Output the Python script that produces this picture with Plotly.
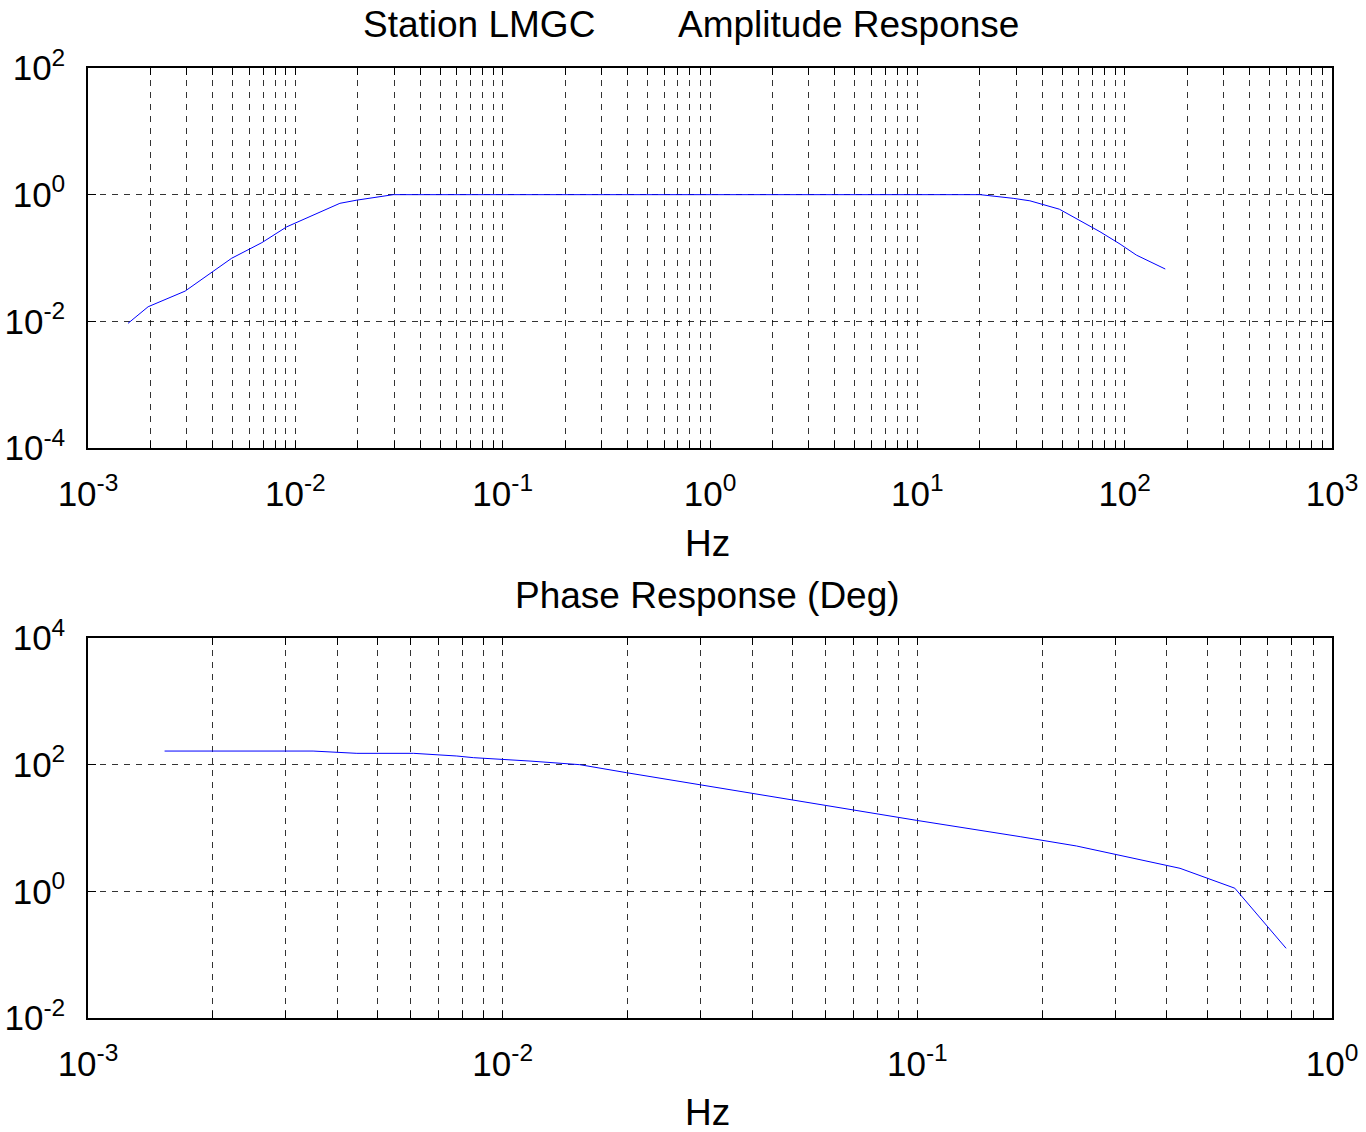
import plotly.graph_objects as go

# ---- data ----
amp_freq = [0.00156, 0.00195, 0.00294, 0.00493, 0.0069, 0.00908, 0.0164, 0.0198,
            0.0297, 0.1, 1.0, 10.0, 20.1, 29.0, 34.9, 48.4, 76.0, 95.0, 114.0, 157.0]
amp_val = [0.0093, 0.017, 0.030, 0.099, 0.175, 0.31, 0.73, 0.82,
           1.0, 1.0, 1.0, 1.0, 1.0, 0.875, 0.80, 0.59, 0.26, 0.166, 0.111, 0.067]

ph_freq = [0.00153, 0.00349, 0.00445, 0.0061, 0.00775, 0.0085, 0.01164, 0.01534,
           0.0199, 0.0297, 0.0493, 0.0996, 0.177, 0.242, 0.43, 0.583, 0.775]
ph_val = [164, 164, 151, 151, 137, 129, 114, 100,
          74.7, 48.3, 28.4, 13.2, 7.3, 5.2, 2.31, 1.12, 0.126]

amp_x_decades = [-3, -2, -1, 0, 1, 2, 3]
amp_y_decades = [-4, -2, 0, 2]
ph_x_decades = [-3, -2, -1, 0]
ph_y_decades = [-2, 0, 2, 4]

title_left = "Station LMGC"
title_right = "Amplitude Response"
title_phase = "Phase Response (Deg)"
x_label = "Hz"

FONT = "Liberation Sans, Arial, sans-serif"
FS = 35
FS_T = 37


def dec_label(e):
    return "10<sup>%d</sup>" % e


def major(decades):
    return [10.0 ** e for e in decades], [dec_label(e) for e in decades]


def minor_vals(decades):
    vals = []
    for e in decades[:-1]:
        for m in range(2, 10):
            vals.append(m * 10.0 ** e)
    return vals


fig = go.Figure()
fig.add_trace(go.Scatter(x=amp_freq, y=amp_val, mode="lines",
                         line=dict(color="#0000ff", width=1),
                         xaxis="x", yaxis="y", showlegend=False))
fig.add_trace(go.Scatter(x=ph_freq, y=ph_val, mode="lines",
                         line=dict(color="#0000ff", width=1),
                         xaxis="x2", yaxis="y2", showlegend=False))

GRIDC = "rgba(0,0,0,0.8)"
common = dict(showgrid=True, gridcolor=GRIDC, gridwidth=1,
              griddash="6px,6px", zeroline=False, automargin=False,
              ticks="inside", tickcolor="black",
              showline=True, linecolor="black", linewidth=1.5, mirror="allticks",
              tickfont=dict(family=FONT, size=FS, color="black"))


def minor_cfg(decades):
    return dict(tickmode="array", tickvals=minor_vals(decades), ticks="inside",
                ticklen=7, tickcolor="black", showgrid=True, gridcolor=GRIDC,
                gridwidth=1, griddash="6px,6px")


a1xv, a1xt = major(amp_x_decades)
a1yv, a1yt = major(amp_y_decades)
a2xv, a2xt = major(ph_x_decades)
a2yv, a2yt = major(ph_y_decades)

fig.update_layout(
    width=1366, height=1132,
    paper_bgcolor="white", plot_bgcolor="white",
    margin=dict(l=88, r=34, t=68, b=114),
    font=dict(family=FONT, size=FS, color="black"),
    xaxis=dict(type="log", range=[-3, 3], domain=[0, 1], anchor="y",
               tickmode="array", tickvals=a1xv, ticktext=a1xt,
               ticklen=7, ticklabelstandoff=14, minor=minor_cfg(amp_x_decades),
               **common),
    yaxis=dict(type="log", range=[-4, 2], domain=[0.6, 1.0], anchor="x",
               tickmode="array", tickvals=a1yv, ticktext=a1yt,
               ticklen=8, ticklabelstandoff=14, **common),
    xaxis2=dict(type="log", range=[-3, 0], domain=[0, 1], anchor="y2",
                tickmode="array", tickvals=a2xv, ticktext=a2xt,
                ticklen=7, ticklabelstandoff=14, minor=minor_cfg(ph_x_decades),
                **common),
    yaxis2=dict(type="log", range=[-2, 4], domain=[0.0, 0.4], anchor="x2",
                tickmode="array", tickvals=a2yv, ticktext=a2yt,
                ticklen=8, ticklabelstandoff=14, **common),
)

ann_font = dict(family=FONT, size=FS_T, color="black")
fig.add_annotation(text=title_left, xref="paper", yref="paper",
                   x=(479 - 88) / 1244, y=(1018 - 25) / 950,
                   xanchor="center", yanchor="middle", showarrow=False, font=ann_font)
fig.add_annotation(text=title_right, xref="paper", yref="paper",
                   x=(848 - 88) / 1244, y=(1018 - 25) / 950,
                   xanchor="center", yanchor="middle", showarrow=False, font=ann_font)
fig.add_annotation(text=title_phase, xref="paper", yref="paper",
                   x=(707 - 88) / 1244, y=(1018 - 595) / 950,
                   xanchor="center", yanchor="middle", showarrow=False, font=ann_font)
fig.add_annotation(text=x_label, xref="paper", yref="paper",
                   x=(707 - 88) / 1244, y=(1018 - 543) / 950,
                   xanchor="center", yanchor="middle", showarrow=False, font=ann_font)
fig.add_annotation(text=x_label, xref="paper", yref="paper",
                   x=(707 - 88) / 1244, y=(1018 - 1112) / 950,
                   xanchor="center", yanchor="middle", showarrow=False, font=ann_font)

fig.write_html("out.html")
